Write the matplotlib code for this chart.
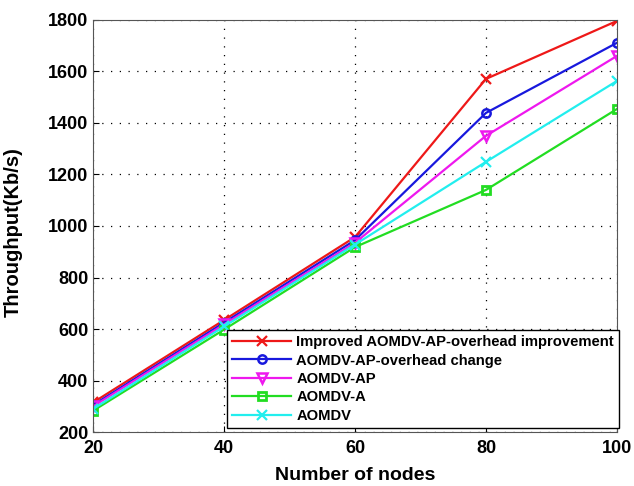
import matplotlib
matplotlib.use("Agg")
import matplotlib.pyplot as plt

plt.rcParams['font.family'] = ['Liberation Sans', 'DejaVu Sans']

nodes = [20, 40, 60, 80, 100]
improved = [315, 635, 957, 1571, 1796]
overhead_change = [305, 625, 945, 1439, 1711]
aomdv_ap = [300, 618, 935, 1350, 1660]
aomdv_a = [283, 598, 918, 1140, 1454]
aomdv = [290, 610, 928, 1249, 1563]

labels = ["Improved AOMDV-AP-overhead improvement", "AOMDV-AP-overhead change",
          "AOMDV-AP", "AOMDV-A", "AOMDV"]
xticks = [20, 40, 60, 80, 100]
yticks = [200, 400, 600, 800, 1000, 1200, 1400, 1600, 1800]

fig = plt.figure(figsize=(6.34, 4.86), dpi=100)
ax = fig.add_axes([0.147, 0.111, 0.826, 0.848])

ax.plot(nodes, improved, color='#ee1818', marker='x', ms=7, mew=1.6, lw=1.6, label=labels[0])
ax.plot(nodes, overhead_change, color='#1818dd', marker='o', ms=6, mfc='none', mew=1.8, lw=1.6, label=labels[1])
ax.plot(nodes, aomdv_ap, color='#ee18ee', marker='v', ms=6.5, mfc='none', mew=1.8, lw=1.6, label=labels[2])
ax.plot(nodes, aomdv_a, color='#22dd22', marker='s', ms=5.5, mfc='none', mew=2.0, lw=1.6, label=labels[3])
ax.plot(nodes, aomdv, color='#22eeee', marker='x', ms=7, mew=1.6, lw=1.6, label=labels[4])

ax.set_xlim(20, 100)
ax.set_ylim(200, 1800)
ax.set_xticks(xticks)
ax.set_yticks(yticks)
ax.tick_params(direction='in', labelsize=13, length=4)
ax.tick_params(axis='x', pad=6)
for t in ax.get_xticklabels() + ax.get_yticklabels():
    t.set_fontweight('bold')
ax.grid(True, linestyle=(0, (1, 6)), color='black', lw=0.9)
for s in ax.spines.values():
    s.set_color('#555555')

ax.set_xlabel("Number of nodes", fontsize=14, fontweight='bold')
ax.set_ylabel("Throughput(Kb/s)", fontsize=14.5, fontweight='bold')
ax.yaxis.set_label_coords(-0.135, 0.485)
ax.xaxis.set_label_coords(0.5, -0.085)

leg = ax.legend(loc='lower right', bbox_to_anchor=(1.004, 0.01),
                prop={'weight': 'bold', 'size': 10.6}, fancybox=False, framealpha=1,
                edgecolor='black', borderpad=0.35, labelspacing=0.3, handlelength=4.0,
                handletextpad=0.35, borderaxespad=0.0)
leg.get_frame().set_linewidth(1.0)

fig.savefig("out.png", dpi=100)
